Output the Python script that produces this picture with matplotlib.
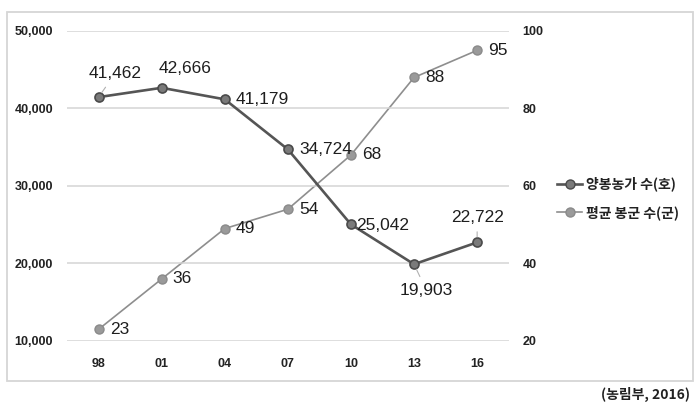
import matplotlib.pyplot as plt
from matplotlib.lines import Line2D
from matplotlib.patches import Rectangle

years = ["98", "01", "04", "07", "10", "13", "16"]
farms = [41462, 42666, 41179, 34724, 25042, 19903, 22722]   # 양봉농가 수(호)
colonies = [23, 36, 49, 54, 68, 88, 95]                     # 평균 봉군 수(군)

farm_label = "양봉농가 수(호)"
colony_label = "평균 봉군 수(군)"
source = "(농림부, 2016)"

KR = ["Noto Sans CJK KR", "DejaVu Sans"]
NUM = ["Liberation Sans", "DejaVu Sans"]
TICK = ["Liberation Sans", "DejaVu Sans"]

DARK = "#555555"
LIGHT = "#8e8e8e"
GRID = "#d4d4d4"

fig = plt.figure(figsize=(7, 4.09), dpi=100)
ax = fig.add_axes([0.0957, 0.1663, 0.631, 0.758])
ax2 = ax.twinx()

x = list(range(len(years)))

ax.plot(x, farms, color=DARK, lw=1.9, marker="o", ms=6.5,
        mfc="#7a7a7a", mec="#4a4a4a", mew=1.2, zorder=3)
ax2.plot(x, colonies, color=LIGHT, lw=1.2, marker="o", ms=6.5,
         mfc="#9a9a9a", mec="#8a8a8a", mew=1.0, zorder=3)

ax.set_xlim(-0.5, 6.5)
ax.set_ylim(10000, 50000)
ax2.set_ylim(20, 100)
ax.set_yticks(range(10000, 50001, 10000))
ax2.set_yticks(range(20, 101, 20))
ax.set_xticks(x)
ax.set_xticklabels(years)
ax.set_yticklabels([f"{v:,}" for v in range(10000, 50001, 10000)])

for a in (ax, ax2):
    for s in a.spines.values():
        s.set_visible(False)
    a.tick_params(length=0, labelsize=9, labelcolor="#222222")
    for lab in a.get_xticklabels() + a.get_yticklabels():
        lab.set_family(TICK)
        lab.set_fontweight("bold")
ax.tick_params(axis="y", pad=10)
ax2.tick_params(axis="y", pad=10)
ax.tick_params(axis="x", pad=12)
ax.grid(axis="y", color=GRID, lw=1.1)
ax.set_axisbelow(True)
ax2.set_zorder(ax.get_zorder() - 1)
ax.patch.set_visible(False)

# data labels: offsets in points, (dx, dy, ha, leader)
farm_pos = [(12, 17, "center", True), (17, 14, "center", False),
            (8, 0, "left", False), (8, 0, "left", False),
            (4, -1, "left", False), (9, -19, "center", True),
            (0, 18, "center", True)]
for xi, v, (dx, dy, ha, lead) in zip(x, farms, farm_pos):
    kw = {}
    if lead:
        kw["arrowprops"] = dict(arrowstyle="-", color="#b0b0b0", lw=0.8,
                                shrinkA=3, shrinkB=4)
    ax.annotate(f"{v:,}", (xi, v), xytext=(dx, dy), textcoords="offset points",
                ha=ha, va="center", fontsize=12.5, family=NUM,
                color="#1e1e1e", **kw)

for xi, v in zip(x, colonies):
    ax2.annotate(f"{v}", (xi, v), xytext=(8, 0), textcoords="offset points",
                 ha="left", va="center", fontsize=12.5, family=NUM,
                 color="#1e1e1e")

handles = [
    Line2D([], [], color=DARK, lw=1.9, marker="o", ms=6.5,
           mfc="#7a7a7a", mec="#4a4a4a"),
    Line2D([], [], color=LIGHT, lw=1.2, marker="o", ms=6.5,
           mfc="#9a9a9a", mec="#8a8a8a"),
]
fig.legend(handles, [farm_label, colony_label], loc="center left",
           bbox_to_anchor=(0.778, 0.515), frameon=False, handlelength=1.8,
           handletextpad=0.3, labelspacing=1.0,
           prop={"family": KR, "size": 10, "weight": "bold"},
           labelcolor="#222222")

fig.patches.append(Rectangle((0.01, 0.068), 0.98, 0.902,
                             transform=fig.transFigure, fill=False,
                             ec="#d6d6d6", lw=1.3))
fig.text(0.986, 0.035, source, ha="right", va="center", fontsize=10,
         family=KR, fontweight="bold", color="#222222")

fig.savefig("out.png", dpi=100)
